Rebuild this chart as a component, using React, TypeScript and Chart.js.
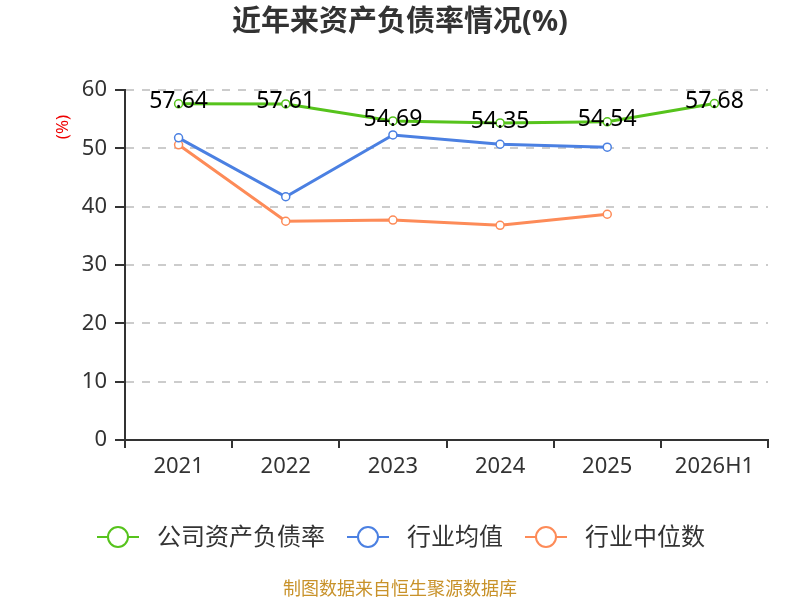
import React, { useEffect, useRef } from 'react';
import { Chart, registerables } from 'chart.js';
import type { ChartConfiguration, Plugin } from 'chart.js';

Chart.register(...registerables);

const categories = ['2021', '2022', '2023', '2024', '2025', '2026H1'];
const companyRatio = [57.64, 57.61, 54.69, 54.35, 54.54, 57.68];
const industryMean = [51.8, 41.7, 52.3, 50.7, 50.2, null];
const industryMedian = [50.6, 37.5, 37.7, 36.8, 38.7, null];
const yTicks = [0, 10, 20, 30, 40, 50, 60];

const GREEN = '#56c31c';
const BLUE = '#4b80e2';
const ORANGE = '#fd8b58';
const FONT = '"Noto Sans", "Noto Sans CJK SC", sans-serif';

const legendItems = [
  { label: '公司资产负债率', color: GREEN, x: 97 },
  { label: '行业均值', color: BLUE, x: 347 },
  { label: '行业中位数', color: ORANGE, x: 525 },
];

const overlay: Plugin = {
  id: 'overlay',
  afterDatasetsDraw(chart) {
    const ctx = chart.ctx;
    ctx.save();
    // labels on the company series only
    const meta = chart.getDatasetMeta(0);
    ctx.fillStyle = '#000';
    ctx.font = `23px ${FONT}`;
    ctx.textAlign = 'center';
    ctx.textBaseline = 'middle';
    meta.data.forEach((pt: any, i: number) => {
      ctx.fillText(companyRatio[i].toFixed(2), pt.x, pt.y - 2);
    });
    ctx.restore();
  },
  afterDraw(chart) {
    const ctx = chart.ctx;
    ctx.save();
    // title
    ctx.fillStyle = '#333';
    ctx.font = `bold 29px ${FONT}`;
    ctx.textAlign = 'center';
    ctx.textBaseline = 'middle';
    ctx.fillText('近年来资产负债率情况(%)', 400, 23);
    // y axis name
    ctx.save();
    ctx.translate(63, 127);
    ctx.rotate(-Math.PI / 2);
    ctx.fillStyle = '#e00';
    ctx.font = `17px ${FONT}`;
    ctx.fillText('(%)', 0, 0);
    ctx.restore();
    // legend
    const ly = 537;
    legendItems.forEach((it) => {
      ctx.strokeStyle = it.color;
      ctx.lineWidth = 2;
      ctx.beginPath();
      ctx.moveTo(it.x, ly);
      ctx.lineTo(it.x + 42, ly);
      ctx.stroke();
      ctx.beginPath();
      ctx.arc(it.x + 21, ly, 10, 0, Math.PI * 2);
      ctx.fillStyle = '#fff';
      ctx.fill();
      ctx.stroke();
      ctx.fillStyle = '#333';
      ctx.font = `24px ${FONT}`;
      ctx.textAlign = 'left';
      ctx.fillText(it.label, it.x + 60, ly + 1);
    });
    // footer
    ctx.fillStyle = '#c8922a';
    ctx.font = `18px ${FONT}`;
    ctx.textAlign = 'center';
    ctx.fillText('制图数据来自恒生聚源数据库', 400, 590);
    ctx.restore();
  },
};

const App: React.FC = () => {
  const chartRef = useRef<HTMLCanvasElement>(null);
  const chartInstanceRef = useRef<Chart | null>(null);

  useEffect(() => {
    if (!chartRef.current) return;
    if (chartInstanceRef.current) chartInstanceRef.current.destroy();

    const mkSet = (label: string, data: (number | null)[], color: string) => ({
      label,
      data,
      borderColor: color,
      backgroundColor: '#fff',
      borderWidth: 3,
      pointRadius: 4,
      pointBorderWidth: 1.5,
      pointBackgroundColor: '#fff',
      pointBorderColor: color,
      tension: 0,
    });

    const config: ChartConfiguration = {
      type: 'line',
      data: {
        labels: categories,
        datasets: [
          mkSet('公司资产负债率', companyRatio, GREEN),
          mkSet('行业均值', industryMean, BLUE),
          mkSet('行业中位数', industryMedian, ORANGE),
        ] as any,
      },
      options: {
        responsive: false,
        animation: false,
        layout: { padding: { top: 90, left: 0, right: 32, bottom: 110 } },
        plugins: {
          legend: { display: false },
          title: { display: false },
          tooltip: { enabled: false },
        },
        scales: {
          x: {
            offset: true,
            grid: {
              offset: true,
              drawOnChartArea: false,
              drawTicks: true,
              tickLength: 8,
              tickColor: '#333',
              lineWidth: 2,
            },
            border: { color: '#333', width: 2 },
            ticks: { color: '#333', font: { size: 22, family: FONT }, padding: 6 },
            afterFit: (s: any) => { s.height = 50; },
          },
          y: {
            min: 0,
            max: 60,
            afterBuildTicks: (s: any) => { s.ticks = yTicks.map((v) => ({ value: v })); },
            grid: {
              color: (c: any) => (c.tick && c.tick.value === 0 ? 'rgba(0,0,0,0)' : '#cccccc'),
              lineWidth: 2,
              tickLength: 10,
              tickColor: '#333',
              tickWidth: 2,
            },
            // in Chart.js 4 border.dash dashes the grid lines
            border: { color: '#333', width: 2, dash: [8, 8] },
            ticks: { color: '#333', font: { size: 22, family: FONT }, padding: 8 },
            afterFit: (s: any) => { s.width = 125; },
          },
        },
      },
      plugins: [overlay],
    };

    chartInstanceRef.current = new Chart(chartRef.current, config);
    return () => {
      if (chartInstanceRef.current) {
        chartInstanceRef.current.destroy();
        chartInstanceRef.current = null;
      }
    };
  }, []);

  return (
    <div style={{ position: 'fixed', left: 0, top: 0, width: 800, height: 600, background: '#fff' }}>
      <canvas ref={chartRef} width={800} height={600} style={{ width: 800, height: 600 }} />
    </div>
  );
};

export default App;
